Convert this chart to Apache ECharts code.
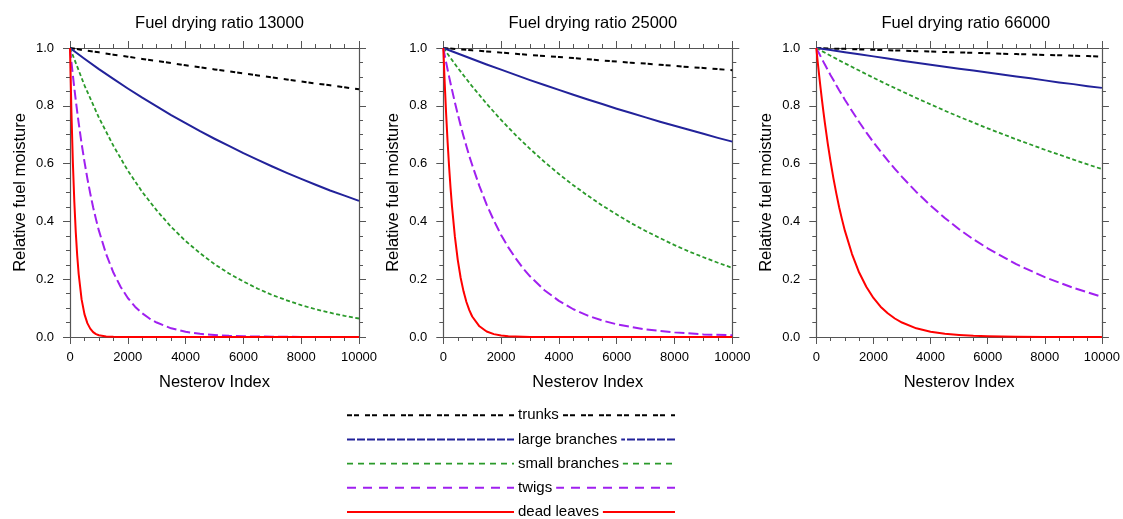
<!DOCTYPE html>
<html>
<head>
<meta charset="utf-8">
<script src="https://cdn.jsdelivr.net/npm/echarts@6/dist/echarts.min.js"></script>
<style>
  html, body { margin: 0; padding: 0; background: #ffffff; }
  #chart { width: 1123px; height: 519px; }
</style>
</head>
<body>
<div id="chart"></div>
<script>
// Nesterov index sample points
const niCoarse = [0, 500, 1000, 1500, 2000, 2500, 3000, 3500, 4000, 4500, 5000,
                  5500, 6000, 6500, 7000, 7500, 8000, 8500, 9000, 9500, 10000];
const niFine = [0, 50, 100, 150, 200, 250, 300, 400, 500, 600, 700, 800, 900, 1000,
                1250, 1500, 1750, 2000, 2250, 2500, 2750, 3000, 3500, 4000, 4500, 5000,
                5500, 6000, 7000, 8000, 9000, 10000];

const dryingRatios = [13000, 25000, 66000];
const fuelClasses = ['trunks', 'large branches', 'small branches', 'twigs', 'dead leaves'];

// relative fuel moisture, drying ratio 13000
const trunks13k = [1, 0.992, 0.985, 0.977, 0.970, 0.962, 0.955, 0.948, 0.940, 0.933, 0.926,
                   0.919, 0.912, 0.905, 0.898, 0.891, 0.884, 0.877, 0.871, 0.864, 0.857];
const largeBranches13k = [1, 0.963, 0.927, 0.893, 0.860, 0.828, 0.798, 0.768, 0.740, 0.712, 0.686,
                          0.661, 0.636, 0.613, 0.590, 0.568, 0.547, 0.527, 0.507, 0.489, 0.471];
const smallBranches13k = [1, 0.871, 0.759, 0.662, 0.576, 0.502, 0.438, 0.381, 0.332, 0.290, 0.252,
                          0.220, 0.192, 0.167, 0.145, 0.127, 0.110, 0.096, 0.084, 0.073, 0.064];
const twigs13k = [1, 0.951, 0.905, 0.861, 0.819, 0.779, 0.741, 0.670, 0.607, 0.549, 0.497, 0.449, 0.407, 0.368,
                  0.287, 0.223, 0.174, 0.135, 0.105, 0.082, 0.064, 0.050, 0.030, 0.018, 0.011, 0.007,
                  0.004, 0.0025, 0.0009, 0.0003, 0.0001, 0];
const deadLeaves13k = [1, 0.776, 0.602, 0.467, 0.362, 0.281, 0.218, 0.131, 0.079, 0.048, 0.029, 0.017, 0.010, 0.006,
                       0.0018, 0.0005, 0.0001, 0, 0, 0, 0, 0, 0, 0, 0, 0,
                       0, 0, 0, 0, 0, 0];

// relative fuel moisture, drying ratio 25000
const trunks25k = [1, 0.996, 0.992, 0.988, 0.984, 0.980, 0.976, 0.972, 0.969, 0.965, 0.961,
                   0.957, 0.953, 0.949, 0.946, 0.942, 0.938, 0.934, 0.931, 0.927, 0.923];
const largeBranches25k = [1, 0.981, 0.962, 0.943, 0.925, 0.907, 0.889, 0.872, 0.855, 0.838, 0.822,
                          0.806, 0.790, 0.775, 0.760, 0.745, 0.731, 0.717, 0.703, 0.689, 0.676];
const smallBranches25k = [1, 0.931, 0.867, 0.807, 0.751, 0.699, 0.651, 0.606, 0.564, 0.525, 0.489,
                          0.455, 0.424, 0.394, 0.367, 0.342, 0.318, 0.296, 0.276, 0.257, 0.239];
const twigs25k = [1, 0.974, 0.949, 0.925, 0.901, 0.878, 0.856, 0.812, 0.771, 0.732, 0.695, 0.660, 0.626, 0.595,
                  0.522, 0.458, 0.403, 0.353, 0.310, 0.273, 0.239, 0.210, 0.162, 0.125, 0.096, 0.074,
                  0.057, 0.044, 0.026, 0.016, 0.009, 0.006];
const deadLeaves25k = [1, 0.876, 0.768, 0.673, 0.590, 0.517, 0.453, 0.348, 0.267, 0.205, 0.158, 0.121, 0.093, 0.071,
                       0.037, 0.019, 0.010, 0.005, 0.0026, 0.0014, 0.0007, 0.0004, 0.0001, 0, 0, 0,
                       0, 0, 0, 0, 0, 0];

// relative fuel moisture, drying ratio 66000
const trunks66k = [1, 0.998, 0.997, 0.995, 0.994, 0.992, 0.991, 0.989, 0.988, 0.986, 0.985,
                   0.983, 0.982, 0.980, 0.979, 0.978, 0.976, 0.975, 0.973, 0.972, 0.970];
const largeBranches66k = [1, 0.993, 0.985, 0.978, 0.971, 0.964, 0.956, 0.949, 0.942, 0.935, 0.928,
                          0.922, 0.915, 0.908, 0.901, 0.895, 0.888, 0.881, 0.875, 0.868, 0.862];
const smallBranches66k = [1, 0.973, 0.947, 0.922, 0.897, 0.873, 0.850, 0.827, 0.805, 0.783, 0.762,
                          0.742, 0.722, 0.703, 0.684, 0.666, 0.648, 0.631, 0.614, 0.597, 0.581];
const twigs66k = [1, 0.990, 0.981, 0.971, 0.961, 0.952, 0.943, 0.924, 0.906, 0.889, 0.871, 0.854, 0.838, 0.821,
                  0.782, 0.744, 0.708, 0.674, 0.642, 0.611, 0.582, 0.554, 0.502, 0.455, 0.412, 0.373,
                  0.338, 0.307, 0.252, 0.207, 0.170, 0.139];
const deadLeaves66k = [1, 0.951, 0.905, 0.861, 0.819, 0.779, 0.741, 0.670, 0.607, 0.549, 0.497, 0.449, 0.407, 0.368,
                       0.287, 0.223, 0.174, 0.135, 0.105, 0.082, 0.064, 0.050, 0.030, 0.018, 0.011, 0.007,
                       0.004, 0.0025, 0.0009, 0.0003, 0.0001, 0];

const panelCurves = [
  [trunks13k, largeBranches13k, smallBranches13k, twigs13k, deadLeaves13k],
  [trunks25k, largeBranches25k, smallBranches25k, twigs25k, deadLeaves25k],
  [trunks66k, largeBranches66k, smallBranches66k, twigs66k, deadLeaves66k]
];
const curveGrids = [niCoarse, niCoarse, niCoarse, niFine, niFine];

// line look per fuel class: plot dash and key dash
const classStyle = [
  { color: '#000000', width: 2,   dash: [5, 2, 5, 6], keyDash: [5, 2, 5, 6] },
  { color: '#22229a', width: 2,   dash: 'solid',      keyDash: [8, 2] },
  { color: '#2a9a2a', width: 1.8, dash: [4, 2.5],     keyDash: [6, 5] },
  { color: '#a020f0', width: 2,   dash: [10, 4],      keyDash: [9, 7] },
  { color: '#ff0000', width: 2,   dash: 'solid',      keyDash: 'solid' }
];

const FONT = '"Liberation Sans", Arial, Helvetica, sans-serif';
const AXIS_COLOR = '#555555';
const panelLeft = [70, 443.3, 816.3];
const panelTop = 48;
const panelSize = 289;

const grids = [], xAxes = [], yAxes = [], titles = [], series = [];

panelLeft.forEach((left, p) => {
  grids.push({ left: left, top: panelTop, width: panelSize, height: panelSize });
  titles.push({
    text: 'Fuel drying ratio ' + dryingRatios[p],
    left: left + panelSize / 2, top: 10, textAlign: 'center',
    textStyle: { fontFamily: FONT, fontSize: 16.5, fontWeight: 'normal', color: '#000' }
  });
  const tick = { show: true, length: 7, lineStyle: { color: AXIS_COLOR, width: 1 } };
  const minor = { show: true, splitNumber: 4, length: 4, lineStyle: { color: AXIS_COLOR, width: 1 } };
  const line = { show: true, onZero: false, lineStyle: { color: AXIS_COLOR, width: 1.2 } };
  const xBase = { type: 'value', gridIndex: p, min: 0, max: 10000, interval: 2000,
                  axisLine: line, axisTick: tick, minorTick: minor, splitLine: { show: false } };
  const yBase = { type: 'value', gridIndex: p, min: 0, max: 1, interval: 0.2,
                  axisLine: line, axisTick: tick, minorTick: minor, splitLine: { show: false } };
  xAxes.push(Object.assign({}, xBase, {
    position: 'bottom',
    name: 'Nesterov Index', nameLocation: 'middle', nameGap: 37,
    nameTextStyle: { fontFamily: FONT, fontSize: 16.5, color: '#000' },
    axisLabel: { margin: 14, fontFamily: FONT, fontSize: 13, color: '#000',
                 formatter: v => String(v) }
  }));
  xAxes.push(Object.assign({}, xBase, { position: 'top', axisLabel: { show: false } }));
  yAxes.push(Object.assign({}, yBase, {
    position: 'left',
    name: 'Relative fuel moisture', nameLocation: 'middle', nameGap: 41,
    nameTextStyle: { fontFamily: FONT, fontSize: 16.5, color: '#000' },
    axisLabel: { margin: 16, fontFamily: FONT, fontSize: 13, color: '#000',
                 formatter: v => v.toFixed(1) }
  }));
  yAxes.push(Object.assign({}, yBase, { position: 'right', axisLabel: { show: false } }));

  panelCurves[p].forEach((vals, c) => {
    const st = classStyle[c];
    series.push({
      type: 'line',
      name: fuelClasses[c],
      xAxisIndex: p * 2, yAxisIndex: p * 2,
      data: curveGrids[c].map((x, k) => [x, vals[k]]),
      symbol: 'none', showSymbol: false,
      smooth: false,
      lineStyle: { color: st.color, width: st.width, type: st.dash, cap: 'butt', join: 'round' },
      z: 2 + c, silent: true
    });
  });
});

// key below the panels: line with the class name sitting on it
const keyRowY = [415.2, 439.4, 463.6, 487.8, 512.0];
const keyGraphics = [];
fuelClasses.forEach((name, c) => {
  const st = classStyle[c];
  keyGraphics.push({
    type: 'line', silent: true, z: 1,
    shape: { x1: 347, y1: keyRowY[c], x2: 675, y2: keyRowY[c] },
    style: { stroke: st.color, lineWidth: st.width,
             lineDash: st.keyDash === 'solid' ? null : st.keyDash }
  });
  keyGraphics.push({
    type: 'text', silent: true, z: 2,
    x: 514, y: keyRowY[c],
    style: { text: name, fill: '#000', font: '15px ' + FONT,
             verticalAlign: 'middle', align: 'left',
             backgroundColor: '#ffffff', padding: [1, 4, 1, 4] }
  });
});

const chart = echarts.init(document.getElementById('chart'), null, { renderer: 'canvas' });
chart.setOption({
  backgroundColor: '#ffffff',
  animation: false,
  title: titles,
  grid: grids,
  xAxis: xAxes,
  yAxis: yAxes,
  series: series,
  graphic: keyGraphics
});
</script>
</body>
</html>
